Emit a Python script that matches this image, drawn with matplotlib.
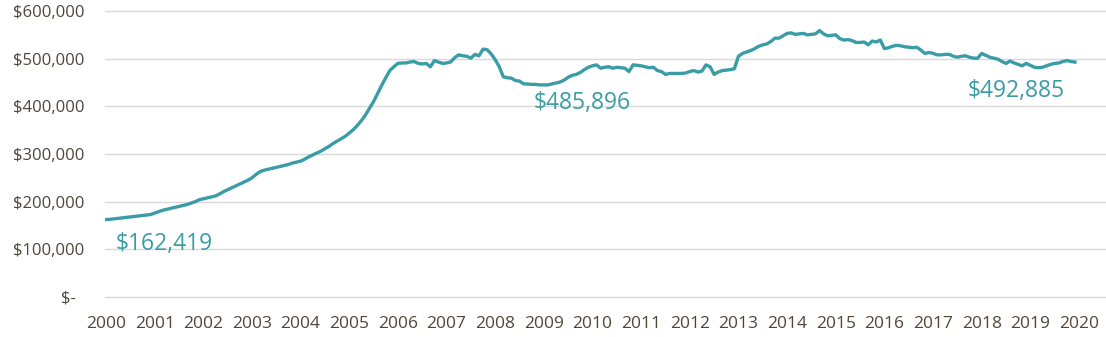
import numpy as np
import matplotlib
matplotlib.use("Agg")
import matplotlib.pyplot as plt
from matplotlib.ticker import FuncFormatter

# monthly median price, Jan 2000 - Dec 2019 (in $1000s)
prices = {
    2000: [162.419, 163, 164, 165, 166, 167, 168, 169, 170, 171, 172, 173],
    2001: [176, 179, 182, 184, 186, 188, 190, 192, 194, 197, 200, 204],
    2002: [206, 208, 210, 212, 216, 221, 225, 229, 233, 237, 241, 245],
    2003: [250, 257, 263, 266, 268, 270, 272, 274, 276, 278, 281, 283],
    2004: [285, 289, 294, 298, 302, 306, 311, 316, 322, 327, 332, 337],
    2005: [344, 351, 360, 370, 382, 396, 410, 427, 444, 460, 475, 483],
    2006: [490, 491, 491, 493, 494, 490, 489, 490, 483, 496, 493, 490],
    2007: [491, 493, 502, 508, 506, 505, 501, 509, 506, 520, 519, 510],
    2008: [498, 483, 462, 460, 459, 454, 453, 447, 447, 446, 446, 445],
    2009: [445, 445, 447, 449, 451, 455, 461, 465, 467, 471, 477, 482],
    2010: [485, 487, 480, 482, 483, 480, 482, 481, 480, 473, 487, 486],
    2011: [485, 483, 481, 482, 475, 473, 467, 469, 469, 469, 469, 470],
    2012: [473, 475, 472, 474, 487, 483, 467, 472, 475, 476, 477, 479],
    2013: [505, 511, 514, 517, 521, 526, 529, 531, 536, 543, 543, 548],
    2014: [553, 554, 551, 552, 553, 550, 551, 552, 559, 552, 548, 549],
    2015: [550, 542, 539, 540, 538, 534, 534, 535, 529, 537, 535, 539],
    2016: [521, 523, 526, 528, 527, 525, 524, 523, 524, 518, 511, 513],
    2017: [511, 508, 508, 509, 509, 505, 503, 505, 506, 503, 501, 501],
    2018: [511, 507, 503, 501, 499, 494, 490, 495, 491, 488, 485, 490],
    2019: [486, 482, 481, 482, 485, 488, 490, 491, 494, 496, 494, 492.885],
}
years = list(range(2000, 2021))
labels = ["$162,419", "$485,896", "$492,885"]
label_x = [2000.2, 2009.78, 2018.7]
label_y = [111000, 407000, 432000]

teal = "#3a9da6"
text_color = "#4f463c"

values = np.concatenate([prices[y] for y in sorted(prices)]) * 1000
dates = 2000 + np.arange(len(values)) / 12

plt.rcParams["font.family"] = ["Open Sans", "DejaVu Sans"]

fig = plt.figure(figsize=(11.06, 3.37), dpi=100)
ax = fig.add_axes([105 / 1106, 40 / 337, 1000 / 1106, 286 / 337])

ax.plot(dates, values, color=teal, linewidth=2.4, solid_joinstyle="round")

for text, x, y in zip(labels, label_x, label_y):
    ax.text(x, y, text, color=teal, fontsize=16.5, ha="center" if x > 2001 else "left",
            va="center")

ax.set_ylim(0, 600000)
ax.set_xlim(2000 - 1 / 48.65, 2000 + 999 / 48.65)
ax.set_yticks(np.arange(0, 600001, 100000))
ax.set_xticks(years)
ax.set_xticklabels([str(y) for y in years])
ax.yaxis.set_major_formatter(FuncFormatter(lambda v, p: "$-  " if v == 0 else f"${v:,.0f}"))

ax.grid(axis="y", color="#d9d9d9", linewidth=1)
for g in ax.get_ygridlines():
    g.set_clip_on(False)
ax.set_axisbelow(True)
for s in ax.spines.values():
    s.set_visible(False)
ax.tick_params(length=0, colors=text_color)
ax.tick_params(axis="y", pad=15, labelsize=12)
ax.tick_params(axis="x", pad=14, labelsize=12.5)

fig.savefig("out.png", dpi=100)
